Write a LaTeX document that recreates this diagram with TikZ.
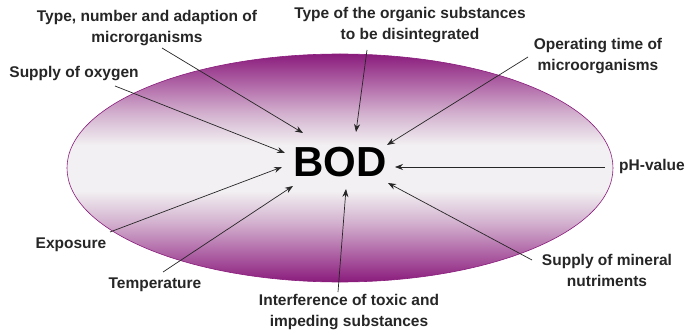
\documentclass[tikz,border=0pt]{standalone}
\usepackage{fontspec}
\setmainfont{Liberation Sans}
\usetikzlibrary{arrows.meta}
\definecolor{purp}{RGB}{138,28,124}
\definecolor{midg}{RGB}{242,240,242}
\pgfdeclareverticalshading{bodshade}{100bp}{%
  color(0bp)=(purp); color(25bp)=(purp); color(31bp)=(purp!70!white);
  color(38bp)=(purp!30!midg); color(45bp)=(midg); color(55bp)=(midg);
  color(62bp)=(purp!30!midg); color(69bp)=(purp!70!white);
  color(75bp)=(purp); color(100bp)=(purp)}
\tikzset{
  lbl/.style={font=\bfseries\fontsize{15.5}{21}\selectfont, align=center, text=black!85, inner sep=0pt},
  arr/.style={-{Stealth[length=8pt,width=6pt]}, line width=0.7pt, draw=black!85},
}
\begin{document}
\begin{tikzpicture}[x=1pt,y=-1pt]
\useasboundingbox (0,0) rectangle (688,334);
\fill[white] (0,0) rectangle (688,334);
% ellipse
\path[shading=bodshade, draw=purp, line width=0.6pt] (340,168) ellipse [x radius=273, y radius=114];
% centre
\node[font=\bfseries\fontsize{42}{42}\selectfont, inner sep=0pt] (bod) at (340,162) {BOD};
\coordinate (t1) at (303,133);
\coordinate (t2) at (356,132);
\coordinate (t3) at (387,145);
\coordinate (t4) at (395,167);
\coordinate (t5) at (388,183);
\coordinate (t6) at (346,189);
\coordinate (t7) at (293,186);
\coordinate (t8) at (282,167);
\coordinate (t9) at (285,153);
% labels
\node[lbl] (l1) at (147,28) {Type, number and adaption of\\microrganisms};
\node[lbl] (l2) at (410,25) {Type of the organic substances\\to be disintegrated};
\node[lbl] (l3) at (598,56) {Operating time of\\microorganisms};
\node[lbl, anchor=west] (l4) at (619,166) {pH-value};
\node[lbl] (l5) at (607,270) {Supply of mineral\\nutriments};
\node[lbl] (l6) at (349,312) {Interference of toxic and\\impeding substances};
\node[lbl] (l7) at (155,285) {Temperature};
\node[lbl] (l8) at (71,245) {Exposure};
\node[lbl] (l9) at (74,74) {Supply of oxygen};
% start points
\coordinate (s1) at (162,48);
\coordinate (s2) at (367,50);
\coordinate (s3) at (528,57);
\coordinate (s4) at (605,167);
\coordinate (s5) at (532,260);
\coordinate (s6) at (338,292);
\coordinate (s7) at (163,272);
\coordinate (s8) at (110,232);
\coordinate (s9) at (115,86);
\foreach \i in {1,...,9} {\draw[arr] (s\i) -- (t\i);}
\end{tikzpicture}
\end{document}
